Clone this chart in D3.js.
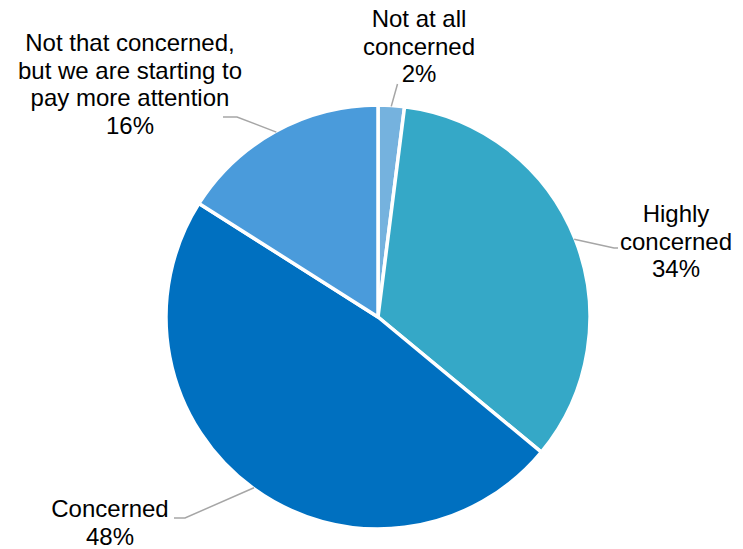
<!DOCTYPE html>
<html>
<head>
<meta charset="utf-8">
<script src="https://cdn.jsdelivr.net/npm/d3@7"></script>
<style>
  html, body { margin: 0; padding: 0; background: #fff; }
  text { font-family: "Liberation Sans", Arial, sans-serif; fill: #000; }
</style>
</head>
<body>
<svg id="chart" width="743" height="549"></svg>
<script>
// ---- Data ----
const categories = [
  "Not at all concerned",
  "Highly concerned",
  "Concerned",
  "Not that concerned, but we are starting to pay more attention"
];
const values = [2, 34, 48, 16];
const labelLines = [
  ["Not at all", "concerned"],
  ["Highly", "concerned"],
  ["Concerned"],
  ["Not that concerned,", "but we are starting to", "pay more attention"]
];
const colors = ["#75B2DE", "#35A8C7", "#0070C0", "#4A9BDB"];

// ---- Layout (not data) ----
const W = 743, H = 549;
const cx = 378, cy = 317, R = 212;
const fontSize = 24, lineH = 27.5;
// label layout: text centre x, first baseline y, leader elbow & end
const labelLayout = [
  { x: 419, y: 27, elbow: [397.5, 84], end: [397.5, 84] },
  { x: 676, y: 222, elbow: [614, 248], end: [618, 248] },
  { x: 110, y: 517, elbow: [185, 518], end: [174, 518] },
  { x: 130, y: 51, elbow: [237, 117], end: [223, 117] }
];

const svg = d3.select("#chart");
const g = svg.append("g").attr("transform", `translate(${cx},${cy})`);

const pie = d3.pie().sort(null).value(d => d)
  .startAngle(0).endAngle(2 * Math.PI);
const arcs = pie(values);
const arc = d3.arc().innerRadius(0).outerRadius(R);

g.selectAll("path.slice")
  .data(arcs)
  .join("path")
  .attr("class", "slice")
  .attr("d", arc)
  .attr("fill", (d, i) => colors[i])
  .attr("stroke", "#fff")
  .attr("stroke-width", 3.5)
  .attr("stroke-linejoin", "round");

// leader lines
arcs.forEach((d, i) => {
  const mid = (d.startAngle + d.endAngle) / 2;
  const sx = cx + (R - 1) * Math.sin(mid);
  const sy = cy - (R - 1) * Math.cos(mid);
  const L = labelLayout[i];
  svg.append("polyline")
    .attr("points", [[sx, sy], L.elbow, L.end].map(p => p.join(",")).join(" "))
    .attr("fill", "none")
    .attr("stroke", "#A6A6A6")
    .attr("stroke-width", 1.5);
});

// labels
arcs.forEach((d, i) => {
  const L = labelLayout[i];
  const lines = labelLines[i].concat([d3.format(".0f")(d.data) + "%"]);
  const t = svg.append("text")
    .attr("text-anchor", "middle")
    .attr("font-size", fontSize);
  lines.forEach((ln, j) => {
    t.append("tspan")
      .attr("x", L.x)
      .attr("y", L.y + j * lineH)
      .text(ln);
  });
});
</script>
</body>
</html>
